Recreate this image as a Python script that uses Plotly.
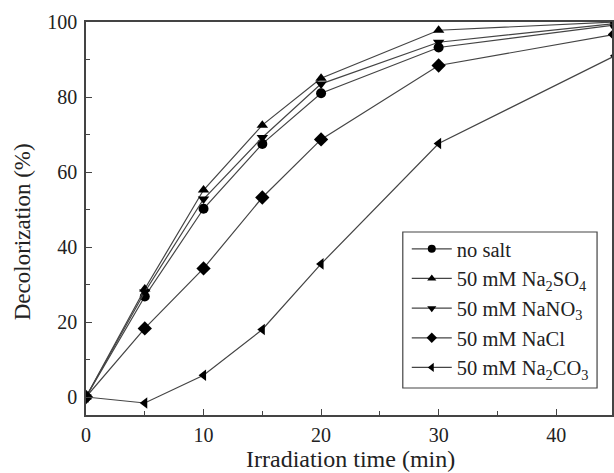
import plotly.graph_objects as go

time_min = [0, 5, 10, 15, 20, 30, 45]
no_salt = [0, 26.8, 50.2, 67.5, 81.0, 93.2, 99.2]
na2so4 = [0, 28.8, 55.2, 72.5, 85.0, 97.8, 100.0]
nano3 = [0, 28.0, 52.8, 69.2, 83.5, 94.6, 99.6]
nacl = [0, 18.3, 34.3, 53.2, 68.7, 88.4, 96.7]
na2co3 = [0, -1.6, 5.8, 18.0, 35.5, 67.6, 91.0]

series_names = ["no salt", "50 mM Na<sub>2</sub>SO<sub>4</sub>", "50 mM NaNO<sub>3</sub>",
                "50 mM NaCl", "50 mM Na<sub>2</sub>CO<sub>3</sub>"]
series_values = [no_salt, na2so4, nano3, nacl, na2co3]
series_symbols = ["circle", "triangle-up", "triangle-down", "diamond", "triangle-left"]

x_ticks = [0, 10, 20, 30, 40]
y_ticks = [0, 20, 40, 60, 80, 100]

FONT = "Liberation Serif"
INK = "#222222"
LINE = "#444444"

# plot area in pixels (for placing the legend box / titles)
L, R, T, B = 86, 614, 22, 415
PW, PH = R - L, B - T

fig = go.Figure()
for i, (name, vals, sym) in enumerate(zip(series_names, series_values, series_symbols)):
    fig.add_trace(go.Scatter(
        x=time_min, y=vals, name=name, mode="lines+markers",
        line=dict(color=LINE, width=1.2),
        marker=dict(symbol=sym, size=10 if sym != "diamond" else 11, color="black"),
        showlegend=False,
    ))
    # legend-only entry with the smaller legend symbol
    fig.add_trace(go.Scatter(
        x=[None], y=[None], name=name, mode="lines+markers",
        line=dict(color=LINE, width=1.2),
        marker=dict(symbol=sym, size=8, color="black"),
        legendgroup=f"g{i}",
    ))

fig.update_layout(
    width=614, height=473,
    margin=dict(l=L, r=614 - R, t=T, b=473 - B),
    paper_bgcolor="white", plot_bgcolor="white",
    font=dict(family=FONT, size=20, color=INK),
    showlegend=True,
    legend=dict(
        x=(408 - L) / PW, y=(B - 229) / PH, xanchor="left", yanchor="top",
        borderwidth=0, bgcolor="rgba(0,0,0,0)",
        font=dict(family=FONT, size=20.5, color=INK),
        tracegroupgap=0, itemwidth=40,
    ),
    shapes=[dict(type="rect", xref="paper", yref="paper",
                 x0=(404 - L) / PW, x1=(599 - L) / PW,
                 y0=(B - 388) / PH, y1=(B - 232) / PH,
                 line=dict(color=LINE, width=1.2), fillcolor="rgba(0,0,0,0)", layer="above")],
    xaxis=dict(
        range=[0, 44.75], tickvals=x_ticks, ticks="inside", ticklen=6, tickwidth=1.2,
        tickcolor=LINE, showline=True, linecolor=LINE, linewidth=1.5,
        mirror=True, showgrid=False, zeroline=False,
        tickfont=dict(size=20), ticklabelstandoff=1,
        minor=dict(ticks="inside", dtick=5, ticklen=4, tickcolor=LINE, tickwidth=1.2),
    ),
    yaxis=dict(
        range=[-4.8, 100], tickvals=y_ticks, ticks="inside", ticklen=6, tickwidth=1.2,
        tickcolor=LINE, showline=True, linecolor=LINE, linewidth=1.5,
        mirror=True, showgrid=False, zeroline=False,
        tickfont=dict(size=20), ticklabelstandoff=3,
        minor=dict(ticks="inside", dtick=10, ticklen=4, tickcolor=LINE, tickwidth=1.2),
    ),
    annotations=[
        dict(text="Irradiation time (min)", xref="paper", yref="paper",
             x=(352 - L) / PW, y=-(459 - B) / PH, xanchor="center", yanchor="middle",
             showarrow=False, font=dict(family=FONT, size=24, color=INK)),
        dict(text="Decolorization (%)", xref="paper", yref="paper",
             x=-(L - 22) / PW, y=(B - 232) / PH, xanchor="center", yanchor="middle",
             textangle=-90, showarrow=False, font=dict(family=FONT, size=23, color=INK)),
    ],
)

fig.write_html("out.html", config={"displayModeBar": False},
               post_script="document.body.style.margin='0';")
